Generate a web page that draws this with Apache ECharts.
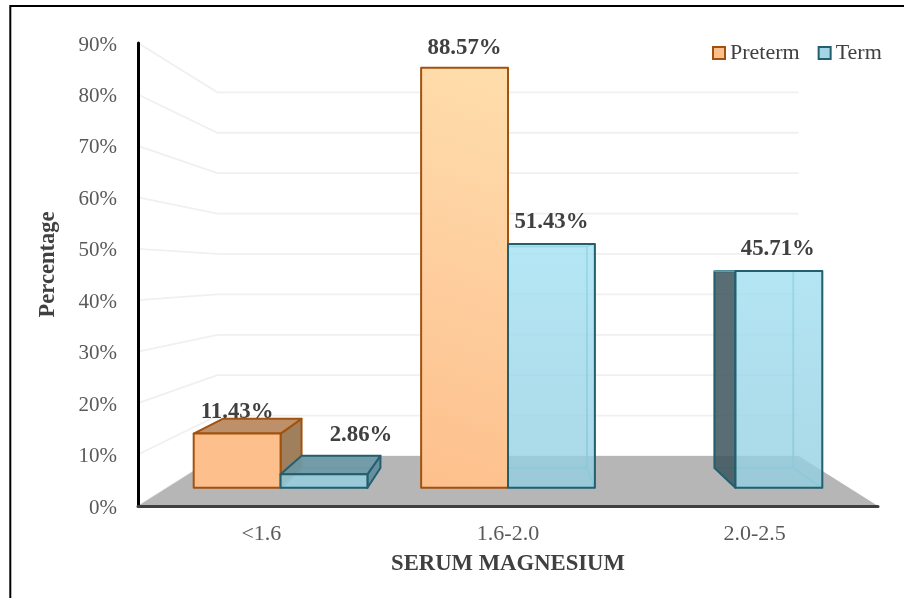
<!DOCTYPE html>
<html><head><meta charset="utf-8">
<style>html,body{margin:0;padding:0;background:#fff}#c{width:904px;height:598px}</style>
<script src="https://cdn.jsdelivr.net/npm/echarts@6/dist/echarts.min.js"></script>
</head><body><div id="c"></div>
<script>
const categories = ['<1.6', '1.6-2.0', '2.0-2.5'];
const pretermValues = [11.43, 88.57, 0];
const termValues = [2.86, 51.43, 45.71];
const yTicks = [0, 10, 20, 30, 40, 50, 60, 70, 80, 90];

// label nudges (px) from the default spot above each bar
const pretermNudge = [[0, -22], [0, -20], [0, 0]];
const termNudge = [[37, -39], [0, -22], [-1, -22]];

const FONT = '"Liberation Serif","Times New Roman",serif';
const INK = '#404040';
// perspective: scale of the bar front, bar back and back wall relative to axis plane
const S_FRONT = 0.922, S_BACK = 0.837, S_WALL = 0.7856;
const VANISH_Y_FRACTION = 230 / 463; // from top of plot
const BAR_BAND = 0.382;

function persp(cs) {
  const vx = cs.x + cs.width / 2, vy = cs.y + cs.height * VANISH_Y_FRACTION;
  return (p, s) => [vx + (p[0] - vx) * s, vy + (p[1] - vy) * s];
}

function renderBackdrop(params, api) {
  const cs = params.coordSys, P = persp(cs);
  const L = cs.x, R = cs.x + cs.width;
  const base = api.coord([0, 0])[1];
  const children = [];
  yTicks.forEach(t => {
    const y = api.coord([0, t])[1];
    const a = [L, y], b = P([L, y], S_WALL), c = P([R, y], S_WALL);
    children.push({ type: 'polyline', shape: { points: [a, b, c] },
      style: { stroke: '#f0f0f0', lineWidth: 1.8, fill: null } });
  });
  children.push({ type: 'polygon', shape: { points: [[L, base], [R, base], P([R, base], S_WALL), P([L, base], S_WALL)] },
    style: { fill: '#b6b6b6' } });
  return { type: 'group', children };
}

const pretermStyle = {
  edge: '#a2520f',
  front: new echarts.graphic.LinearGradient(560, 67, 420, 487, [
    { offset: 0, color: '#ffdfad' }, { offset: 0.55, color: '#fecd9d' }, { offset: 1, color: '#fdc08c' }], true),
  top: '#bd9069', sideL: '#a07f5d', sideR: '#a07f5d',
  hiddenFill: 'rgba(0,0,0,0)', hiddenEdge: 'rgba(0,0,0,0)'
};
const termStyle = {
  edge: '#235f6f',
  front: new echarts.graphic.LinearGradient(0, 250, 0, 487, [
    { offset: 0, color: 'rgba(163,225,243,0.77)' }, { offset: 1, color: 'rgba(148,207,225,0.77)' }], true),
  top: 'rgba(105,150,165,0.85)', sideL: 'rgba(62,85,92,0.85)', sideR: 'rgba(95,140,155,0.9)',
  hiddenFill: 'rgba(120,190,210,0.10)', hiddenEdge: 'rgba(110,180,195,0.75)'
};

function makeBar(side, style, nudge) {
  return function (params, api) {
    const v = api.value(1);
    if (!v) return null;
    const P = persp(params.coordSys);
    const idx = api.value(0);
    const c = api.coord([idx, 0]);
    const top = api.coord([idx, v])[1];
    const base = c[1];
    const w = api.size([1, 0])[0] * BAR_BAND;
    const x0 = side < 0 ? c[0] - w : c[0], x1 = x0 + w;
    const vy = params.coordSys.y + params.coordSys.height * VANISH_Y_FRACTION;
    const f = (x, y) => P([x, y], S_FRONT), b = (x, y) => P([x, y], S_BACK);
    const face = (pts, fill, stroke, lw) => ({ type: 'polygon', shape: { points: pts },
      style: { fill, stroke, lineWidth: lw, lineJoin: 'round' } });
    const hf = style.hiddenFill, he = style.hiddenEdge;
    const kids = [];
    // back and floor of the box
    kids.push(face([b(x0, top), b(x1, top), b(x1, base), b(x0, base)], hf, he, 1.5));
    kids.push(face([b(x0, base), b(x1, base), f(x1, base), f(x0, base)], hf, he, 1.5));
    const leftShown = f(x0, 0)[0] > b(x0, 0)[0];
    const rightShown = f(x1, 0)[0] < b(x1, 0)[0];
    const leftFace = [b(x0, top), f(x0, top), f(x0, base), b(x0, base)];
    const rightFace = [f(x1, top), b(x1, top), b(x1, base), f(x1, base)];
    kids.push(leftShown ? face(leftFace, style.sideL, style.edge, 2) : face(leftFace, hf, he, 1.5));
    kids.push(rightShown ? face(rightFace, style.sideR, style.edge, 2) : face(rightFace, hf, he, 1.5));
    const topFace = [b(x0, top), b(x1, top), f(x1, top), f(x0, top)];
    kids.push(top > vy ? face(topFace, style.top, style.edge, 2) : face(topFace, hf, he, 1.5));
    kids.push(face([f(x0, top), f(x1, top), f(x1, base), f(x0, base)], style.front, style.edge, 2));
    const anchor = f((x0 + x1) / 2, top);
    const n = nudge[idx];
    kids.push({ type: 'text', z2: 50, style: {
      text: v.toFixed(2) + '%', x: anchor[0] + n[0], y: anchor[1] + n[1],
      align: 'center', verticalAlign: 'middle',
      font: 'bold 22.8px ' + FONT, fill: INK } });
    return { type: 'group', children: kids };
  };
}

const chart = echarts.init(document.getElementById('c'), null, { renderer: 'canvas' });
chart.setOption({
  animation: false,
  backgroundColor: '#fff',
  textStyle: { fontFamily: FONT },
  graphic: [{ type: 'polyline', z: -1, silent: true,
    shape: { points: [[10.3, 598], [10.3, 6], [904, 6]] }, style: { fill: null, stroke: '#000', lineWidth: 2 } }],
  grid: { left: 138, right: 26, top: 43, bottom: 92, containLabel: false },
  legend: {
    left: 712, top: 42, itemWidth: 12, itemHeight: 12, itemGap: 18, padding: 0,
    textStyle: { fontFamily: FONT, fontSize: 22, color: INK },
    selectedMode: false,
    data: [
      { name: 'Preterm', icon: 'rect', itemStyle: { color: '#fdc08c', borderColor: '#a2520f', borderWidth: 2 } },
      { name: 'Term', icon: 'rect', itemStyle: { color: '#a3d5e4', borderColor: '#235f6f', borderWidth: 2 } }
    ]
  },
  xAxis: {
    type: 'category', data: categories, z: 10,
    axisLine: { show: true, onZero: false, lineStyle: { color: INK, width: 3 } },
    axisTick: { show: false },
    axisLabel: { color: '#595959', fontFamily: FONT, fontSize: 22, margin: 17 },
    name: 'SERUM MAGNESIUM', nameLocation: 'middle', nameGap: 47,
    nameTextStyle: { color: INK, fontFamily: FONT, fontSize: 22.7, fontWeight: 'bold' }
  },
  yAxis: {
    type: 'value', min: 0, max: 90, interval: 10, z: 10,
    axisLine: { show: true, lineStyle: { color: '#000', width: 3 } },
    axisTick: { show: false }, splitLine: { show: false },
    axisLabel: { color: '#595959', fontFamily: FONT, fontSize: 21, margin: 21, verticalAlign: 'top', lineHeight: 4, formatter: '{value}%' },
    name: 'Percentage', nameLocation: 'middle', nameGap: 78,
    nameTextStyle: { color: INK, fontFamily: FONT, fontSize: 22.5, fontWeight: 'bold', padding: [0, 0, 0, 20] }
  },
  series: [
    { type: 'custom', name: 'backdrop', silent: true, z: 1, clip: false,
      data: [[0, 0]], renderItem: renderBackdrop },
    { type: 'custom', name: 'Preterm', z: 2, clip: false, silent: true,
      itemStyle: { color: '#fdc08c' },
      data: categories.map((c, i) => [i, pretermValues[i]]),
      encode: { x: 0, y: 1 }, renderItem: makeBar(-1, pretermStyle, pretermNudge) },
    { type: 'custom', name: 'Term', z: 3, clip: false, silent: true,
      itemStyle: { color: '#a3d5e4' },
      data: categories.map((c, i) => [i, termValues[i]]),
      encode: { x: 0, y: 1 }, renderItem: makeBar(1, termStyle, termNudge) }
  ]
});
</script></body></html>
